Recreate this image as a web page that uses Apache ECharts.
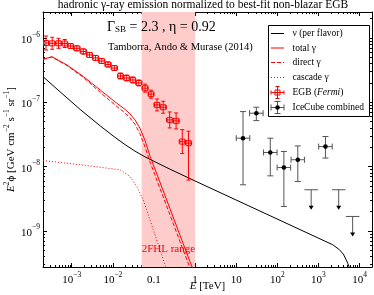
<!DOCTYPE html>
<html><head><meta charset="utf-8">
<script src="https://cdn.jsdelivr.net/npm/echarts@6/dist/echarts.min.js"></script>
<style>html,body{margin:0;padding:0;background:#fff}#c{width:374px;height:295px}</style>
</head><body><div id="c"></div>
<script>
// ---------------- data (E in TeV, E^2 phi in GeV cm^-2 s^-1 sr^-1) ----------------
const xRange = [2e-4, 2e4];
const yRange = [2.75e-10, 2.54e-6];
const xTickValues = [1e-3, 1e-2, 0.1, 1, 10, 1e2, 1e3, 1e4];
const xTickLabels = ['10^-3', '10^-2', '0.1', '1', '10', '10^2', '10^3', '10^4'];
const yTickValues = [1e-9, 1e-8, 1e-7, 1e-6];
const yTickLabels = ['10^-9', '10^-8', '10^-7', '10^-6'];
const bandRange = [0.05, 1];

const nuE    = [2.0e-4, 5.25e-4, 1.6e-3, 4.9e-3, 1.13e-2, 1.98e-2, 3.46e-2, 6.04e-2, 0.1054, 0.2438, 1.0, 2220, 3221, 4030, 4690, 5180, 5640, 6060];
const nuFlux = [2.51e-7, 1.45e-7, 7.76e-8, 4.31e-8, 2.85e-8, 2.20e-8, 1.74e-8, 1.42e-8, 1.19e-8, 9.14e-9, 5.98e-9, 6.1e-10, 5.11e-10, 4.35e-10, 3.57e-10, 3.10e-10, 2.69e-10, 2.24e-10];

const gamE       = [2.0e-4, 3.3e-4, 7.64e-4, 1.93e-3, 4.9e-3, 1.245e-2, 1.98e-2, 2.61e-2, 3.46e-2, 4.57e-2, 6.04e-2, 7.98e-2, 0.1396, 0.2438, 0.4256, 0.745, 0.931];
const totalFlux  = [4.67e-7, 5.13e-7, 3.81e-7, 2.51e-7, 1.56e-7, 9.68e-8, 7.76e-8, 6.61e-8, 5.33e-8, 3.94e-8, 2.56e-8, 1.47e-8, 5.73e-9, 2.23e-9, 8.67e-10, 3.37e-10, 2.33e-10];
const directFlux = [4.64e-7, 5.07e-7, 3.74e-7, 2.44e-7, 1.43e-7, 8.64e-8, 6.85e-8, 5.73e-8, 4.54e-8, 3.24e-8, 2.03e-8, 1.19e-8, 4.61e-9, 1.79e-9, 6.92e-10, 2.69e-10, 2.02e-10];

const cascE    = [2.0e-4, 1.6e-3, 1.5e-2, 2.61e-2, 3.8e-2, 5.5e-2, 7.98e-2, 0.116, 0.168, 0.203];
const cascFlux = [1.245e-8, 1.07e-8, 8.93e-9, 7.03e-9, 4.91e-9, 3.05e-9, 1.49e-9, 7.31e-10, 3.57e-10, 2.5e-10];

// Fermi EGB bins (GeV edges), values and error ranges
const egbEdgesGeV = [0.2, 0.28, 0.4, 0.57, 0.8, 1.1, 1.6, 2.3, 3.2, 4.5, 6.4, 9.1, 13, 18, 26, 36, 51, 72, 100, 140, 200, 290, 410, 580, 820];
const egbFlux = [8.37e-7, 8.28e-7, 8.28e-7, 8.22e-7, 7.52e-7, 6.92e-7, 6.18e-7, 5.45e-7, 4.90e-7, 4.40e-7, 3.88e-7, 3.42e-7, 2.57e-7, 2.39e-7, 2.23e-7, 2.00e-7, 1.66e-7, 1.34e-7, 9.12e-8, 8.40e-8, 5.33e-8, 5.14e-8, 2.45e-8, 2.32e-8];
const egbLow  = [6.52e-7, 6.68e-7, 6.92e-7, 7.12e-7, 6.87e-7, 6.33e-7, 5.65e-7, 4.98e-7, 4.48e-7, 4.02e-7, 3.55e-7, 3.13e-7, 2.31e-7, 2.15e-7, 2.00e-7, 1.80e-7, 1.44e-7, 1.16e-7, 7.36e-8, 6.78e-8, 4.00e-8, 3.86e-8, 1.60e-8, 6.18e-9];
const egbHigh = [1.075e-6, 1.026e-6, 9.90e-7, 9.49e-7, 8.23e-7, 7.57e-7, 6.76e-7, 5.96e-7, 5.36e-7, 4.81e-7, 4.24e-7, 3.74e-7, 2.86e-7, 2.66e-7, 2.48e-7, 2.23e-7, 1.92e-7, 1.55e-7, 1.13e-7, 1.04e-7, 7.09e-8, 6.84e-8, 3.76e-8, 3.56e-8];

// IceCube combined (per flavor)
const icE    = [14.6, 30.8, 67.3, 144, 314, 1476];
const icFlux = [2.77e-8, 6.78e-8, 1.66e-8, 9.68e-9, 1.28e-8, 2.05e-8];
const icLow  = [5.22e-9, 5.20e-8, 7.19e-9, 2.40e-9, 5.87e-9, 1.36e-8];
const icHigh = [7.18e-8, 8.40e-8, 2.77e-8, 1.72e-8, 2.10e-8, 2.94e-8];
const icULE  = [664, 3100, 6770];
const icUL   = [4.37e-9, 4.37e-9, 1.68e-9];
const icBinFactor = 1.46; // half bin width (factor in energy)

// ---------------- chart ----------------
const L = Math.log10;
const SERIF = '"Liberation Serif", "DejaVu Serif", serif';
const RED = '#ff0000';

function supLabel(s) {
  const i = s.indexOf('^');
  if (i < 0) return '{b|' + s + '}';
  return '{b|' + s.slice(0, i) + '}{s|' + s.slice(i + 1).replace('-', '\u2212') + '}';
}
const tickRich = {
  b: { fontFamily: SERIF, fontSize: 11, color: '#000', verticalAlign: 'bottom', lineHeight: 15 },
  s: { fontFamily: SERIF, fontSize: 7.5, color: '#000', verticalAlign: 'top', lineHeight: 15 }
};
function minorVals(lo, hi) {
  const out = [];
  for (let d = Math.floor(lo) - 1; d <= Math.ceil(hi); d++)
    for (let k = 2; k <= 9; k++) { const v = d + L(k); if (v > lo && v < hi) out.push(v); }
  return out;
}
const xMin = L(xRange[0]), xMax = L(xRange[1]), yMin = L(yRange[0]), yMax = L(yRange[1]);
const xMaj = xTickValues.map(L), yMaj = yTickValues.map(L);
const xMinor = minorVals(xMin, xMax), yMinor = minorVals(yMin, yMax);
function labelFor(vals, labels) {
  return v => { let best = 0; vals.forEach((t, i) => { if (Math.abs(t - v) < Math.abs(vals[best] - v)) best = i; }); return supLabel(labels[best]); };
}
function axis(dim, pos, ticks, len, showLine, labels) {
  const a = {
    type: 'value', position: pos,
    min: dim === 'x' ? xMin : yMin, max: dim === 'x' ? xMax : yMax,
    splitLine: { show: false },
    axisLine: { show: showLine, onZero: false, lineStyle: { color: '#000', width: 1 } },
    axisTick: { show: true, inside: true, length: len, customValues: ticks, lineStyle: { color: '#000', width: 1 } },
    axisLabel: { show: false }
  };
  if (labels) {
    a.axisLabel = { show: true, customValues: ticks, formatter: labelFor(ticks, labels), rich: tickRich, margin: dim === 'x' ? 4 : 3 };
  }
  return a;
}
const xAxes = [
  axis('x', 'bottom', xMaj, 4, true, xTickLabels),
  axis('x', 'bottom', xMinor, 2, false),
  axis('x', 'top', xMaj, 4, true),
  axis('x', 'top', xMinor, 2, false)
];
xAxes[0].name = '{i|E} [TeV]';
xAxes[0].nameLocation = 'middle';
xAxes[0].nameGap = 13;
xAxes[0].nameMoveOverlap = false;
xAxes[0].nameTextStyle = { fontFamily: SERIF, fontSize: 11, color: '#000', verticalAlign: 'top', lineHeight: 13,
  rich: { i: { fontFamily: SERIF, fontStyle: 'italic', fontSize: 11, color: '#000', lineHeight: 13 } } };
const yAxes = [
  axis('y', 'left', yMaj, 4, true, yTickLabels),
  axis('y', 'left', yMinor, 2, false),
  axis('y', 'right', yMaj, 4, true),
  axis('y', 'right', yMinor, 2, false)
];
yAxes[0].name = '{i|E}{s|2}{n|\u03d5 [GeV cm}{s|\u22122}{n| s}{s|\u22121}{n| sr}{s|\u22121}{n|]}';
yAxes[0].nameLocation = 'middle';
yAxes[0].nameGap = 26;
yAxes[0].nameMoveOverlap = false;
yAxes[0].nameTextStyle = { rich: {
  i: { fontFamily: SERIF, fontStyle: 'italic', fontSize: 11, color: '#000', verticalAlign: 'bottom', lineHeight: 14 },
  n: { fontFamily: SERIF, fontSize: 11, color: '#000', verticalAlign: 'bottom', lineHeight: 14 },
  s: { fontFamily: SERIF, fontSize: 7.5, color: '#000', verticalAlign: 'top', lineHeight: 14 }
} };

const toPts = (xs, ys) => xs.map((x, i) => [L(x), L(ys[i])]);

function egbItems() {
  return egbFlux.map((f, i) => {
    const lo = egbEdgesGeV[i] / 1000, hi = egbEdgesGeV[i + 1] / 1000;
    const c = Math.sqrt(lo * hi);
    return [L(c), L(f), L(lo), L(hi), L(egbLow[i]), L(egbHigh[i])];
  });
}
function icItems() {
  return icFlux.map((f, i) => [L(icE[i]), L(f), L(icE[i] / icBinFactor), L(icE[i] * icBinFactor), L(icLow[i]), L(icHigh[i])]);
}
function icULItems() {
  return icUL.map((f, i) => [L(icULE[i]), L(f), L(icULE[i] / icBinFactor), L(icULE[i] * icBinFactor)]);
}

function errorBar(api, color, cap) {
  const x = api.value(0), y = api.value(1);
  const c = api.coord([x, y]);
  const l = api.coord([api.value(2), y]), r = api.coord([api.value(3), y]);
  const b = api.coord([x, api.value(4)]), t = api.coord([x, api.value(5)]);
  const st = { stroke: color, lineWidth: 1, fill: null };
  return [
    { type: 'line', shape: { x1: l[0], y1: c[1], x2: r[0], y2: c[1] }, style: st },
    { type: 'line', shape: { x1: c[0], y1: t[1], x2: c[0], y2: b[1] }, style: st },
    { type: 'line', shape: { x1: l[0], y1: c[1] - cap, x2: l[0], y2: c[1] + cap }, style: st },
    { type: 'line', shape: { x1: r[0], y1: c[1] - cap, x2: r[0], y2: c[1] + cap }, style: st },
    { type: 'line', shape: { x1: c[0] - cap, y1: t[1], x2: c[0] + cap, y2: t[1] }, style: st },
    { type: 'line', shape: { x1: c[0] - cap, y1: b[1], x2: c[0] + cap, y2: b[1] }, style: st }
  ];
}

const lineBase = { type: 'line', showSymbol: false, symbol: 'none', clip: true, silent: true, xAxisIndex: 0, yAxisIndex: 0 };

const option = {
  animation: false,
  backgroundColor: '#fff',
  grid: { left: 43, right: 2, top: 12, bottom: 28, containLabel: false, outerBoundsMode: 'none' },
  xAxis: xAxes,
  yAxis: yAxes,
  series: [
    Object.assign({}, lineBase, {
      name: 'band', data: [], z: 1,
      markArea: {
        silent: true,
        itemStyle: { color: '#ffcccc' },
        label: { show: true, position: 'insideBottom', distance: 12, color: RED, fontFamily: SERIF, fontSize: 11, formatter: '2FHL range' },
        data: [[{ xAxis: L(bandRange[0]) }, { xAxis: L(bandRange[1]) }]]
      }
    }),
    Object.assign({}, lineBase, { name: 'nu', z: 3, data: toPts(nuE, nuFlux), lineStyle: { color: '#000', width: 1 } }),
    Object.assign({}, lineBase, { name: 'cascade', z: 3, data: toPts(cascE, cascFlux), lineStyle: { color: RED, width: 1, type: [1, 2] } }),
    Object.assign({}, lineBase, { name: 'direct', z: 3, data: toPts(gamE, directFlux), lineStyle: { color: RED, width: 1, type: [4, 2] } }),
    Object.assign({}, lineBase, { name: 'total', z: 3, data: toPts(gamE, totalFlux), lineStyle: { color: RED, width: 1 } }),
    {
      type: 'custom', name: 'EGB', z: 5, clip: true, silent: true,
      data: egbItems(), encode: { x: 0, y: 1 },
      renderItem: (params, api) => {
        const c = api.coord([api.value(0), api.value(1)]);
        const ch = errorBar(api, RED, 2);
        ch.push({ type: 'rect', shape: { x: c[0] - 2.5, y: c[1] - 2.5, width: 5, height: 5 }, style: { stroke: RED, fill: null, lineWidth: 1 } });
        return { type: 'group', children: ch };
      }
    },
    {
      type: 'custom', name: 'IceCube', z: 5, clip: true, silent: true,
      data: icItems(), encode: { x: 0, y: 1 },
      renderItem: (params, api) => {
        const c = api.coord([api.value(0), api.value(1)]);
        const ch = errorBar(api, '#555', 3);
        ch.push({ type: 'circle', shape: { cx: c[0], cy: c[1], r: 2.3 }, style: { fill: '#000' } });
        return { type: 'group', children: ch };
      }
    },
    {
      type: 'custom', name: 'IceCubeUL', z: 5, clip: true, silent: true,
      data: icULItems(), encode: { x: 0, y: 1 },
      renderItem: (params, api) => {
        const c = api.coord([api.value(0), api.value(1)]);
        const l = api.coord([api.value(2), api.value(1)]), r = api.coord([api.value(3), api.value(1)]);
        const st = { stroke: '#555', lineWidth: 1, fill: null };
        const ay = c[1] + 20;
        return { type: 'group', children: [
          { type: 'line', shape: { x1: l[0], y1: c[1], x2: r[0], y2: c[1] }, style: st },
          { type: 'line', shape: { x1: c[0], y1: c[1], x2: c[0], y2: ay - 3 }, style: st },
          { type: 'polygon', shape: { points: [[c[0] - 2.5, ay - 4], [c[0] + 2.5, ay - 4], [c[0], ay]] }, style: { fill: '#000' } }
        ] };
      }
    }
  ],
  graphic: [
    { type: 'text', z: 100, x: 203, y: 5, style: { text: 'hadronic \u03b3-ray emission normalized to best-fit non-blazar EGB', fontFamily: SERIF, fontSize: 11.5, fill: '#000', align: 'center', verticalAlign: 'middle' } },
    { type: 'text', z: 100, x: 107, y: 26, style: { text: '{g|\u0393}{sub|SB}{g| = 2.3 , \u03b7 = 0.92}', fill: '#000', verticalAlign: 'middle',
      rich: { g: { fontFamily: SERIF, fontSize: 14, fill: '#000', verticalAlign: 'bottom', lineHeight: 17 },
              sub: { fontFamily: SERIF, fontSize: 9, fill: '#000', verticalAlign: 'bottom', lineHeight: 17 } } } },
    { type: 'text', z: 100, x: 108, y: 47, style: { text: 'Tamborra, Ando & Murase (2014)', fontFamily: SERIF, fontSize: 10.5, fill: '#000', verticalAlign: 'middle' } },
    // legend
    { type: 'rect', shape: { x: 268.5, y: 25.5, width: 101, height: 91 }, style: { fill: '#fff', stroke: '#000', lineWidth: 1 }, z: 100 },
    { type: 'line', shape: { x1: 271, y1: 33.5, x2: 284, y2: 33.5 }, style: { stroke: '#000', lineWidth: 1 }, z: 101 },
    { type: 'line', shape: { x1: 271, y1: 48, x2: 284, y2: 48 }, style: { stroke: RED, lineWidth: 1 }, z: 101 },
    { type: 'line', shape: { x1: 271, y1: 62.5, x2: 284, y2: 62.5 }, style: { stroke: RED, lineWidth: 1, lineDash: [4, 2] }, z: 101 },
    { type: 'line', shape: { x1: 271, y1: 77.5, x2: 284, y2: 77.5 }, style: { stroke: RED, lineWidth: 1, lineDash: [1, 2] }, z: 101 },
    { type: 'group', z: 101, children: [
      { type: 'line', z: 101, shape: { x1: 271, y1: 92.5, x2: 284, y2: 92.5 }, style: { stroke: RED, lineWidth: 1 } },
      { type: 'line', z: 101, shape: { x1: 277.5, y1: 86.5, x2: 277.5, y2: 98.5 }, style: { stroke: RED, lineWidth: 1 } },
      { type: 'line', z: 101, shape: { x1: 275.5, y1: 86.5, x2: 279.5, y2: 86.5 }, style: { stroke: RED, lineWidth: 1 } },
      { type: 'line', z: 101, shape: { x1: 275.5, y1: 98.5, x2: 279.5, y2: 98.5 }, style: { stroke: RED, lineWidth: 1 } },
      { type: 'line', z: 101, shape: { x1: 271, y1: 90.5, x2: 271, y2: 94.5 }, style: { stroke: RED, lineWidth: 1 } },
      { type: 'line', z: 101, shape: { x1: 284, y1: 90.5, x2: 284, y2: 94.5 }, style: { stroke: RED, lineWidth: 1 } },
      { type: 'rect', z: 101, shape: { x: 275, y: 90, width: 5, height: 5 }, style: { fill: null, stroke: RED, lineWidth: 1 } }
    ] },
    { type: 'group', z: 101, children: [
      { type: 'line', z: 101, shape: { x1: 271, y1: 107.5, x2: 284, y2: 107.5 }, style: { stroke: '#555', lineWidth: 1 } },
      { type: 'line', z: 101, shape: { x1: 277.5, y1: 101.5, x2: 277.5, y2: 113.5 }, style: { stroke: '#555', lineWidth: 1 } },
      { type: 'line', z: 101, shape: { x1: 274.5, y1: 101.5, x2: 280.5, y2: 101.5 }, style: { stroke: '#555', lineWidth: 1 } },
      { type: 'line', z: 101, shape: { x1: 274.5, y1: 113.5, x2: 280.5, y2: 113.5 }, style: { stroke: '#555', lineWidth: 1 } },
      { type: 'line', z: 101, shape: { x1: 271, y1: 104.5, x2: 271, y2: 110.5 }, style: { stroke: '#555', lineWidth: 1 } },
      { type: 'line', z: 101, shape: { x1: 284, y1: 104.5, x2: 284, y2: 110.5 }, style: { stroke: '#555', lineWidth: 1 } },
      { type: 'circle', z: 101, shape: { cx: 277.5, cy: 107.5, r: 2.3 }, style: { fill: '#000' } }
    ] },
    { type: 'text', z: 101, x: 292.5, y: 33.5, style: { text: '\u03bd (per flavor)', fontFamily: SERIF, fontSize: 9.5, fill: '#000', verticalAlign: 'middle' } },
    { type: 'text', z: 101, x: 292.5, y: 48, style: { text: 'total \u03b3', fontFamily: SERIF, fontSize: 9.5, fill: '#000', verticalAlign: 'middle' } },
    { type: 'text', z: 101, x: 292.5, y: 62.5, style: { text: 'direct \u03b3', fontFamily: SERIF, fontSize: 9.5, fill: '#000', verticalAlign: 'middle' } },
    { type: 'text', z: 101, x: 292.5, y: 77.5, style: { text: 'cascade \u03b3', fontFamily: SERIF, fontSize: 9.5, fill: '#000', verticalAlign: 'middle' } },
    { type: 'text', z: 101, x: 292.5, y: 92.5, style: { text: '{n|EGB (}{i|Fermi}{n|)}', verticalAlign: 'middle',
      rich: { n: { fontFamily: SERIF, fontSize: 9.5, fill: '#000' }, i: { fontFamily: SERIF, fontStyle: 'italic', fontSize: 9.5, fill: '#000' } } } },
    { type: 'text', z: 101, x: 292.5, y: 107.5, style: { text: 'IceCube combined', fontFamily: SERIF, fontSize: 9.5, fill: '#000', verticalAlign: 'middle' } }
  ]
};
const chart = echarts.init(document.getElementById('c'), null, { renderer: 'canvas' });
chart.setOption(option);
</script>
</body></html>
